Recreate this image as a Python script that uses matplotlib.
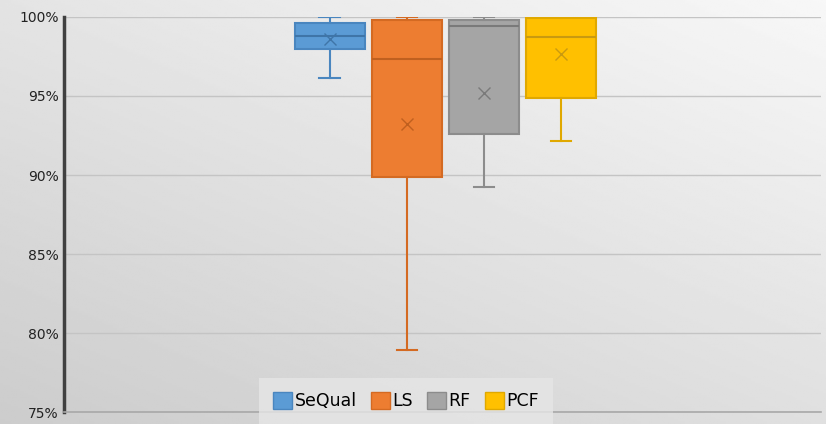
import numpy as np
import matplotlib
matplotlib.use('Agg')
import matplotlib.pyplot as plt
from matplotlib.patches import Patch
from matplotlib.ticker import FuncFormatter

# Box plot statistics (fraction of 1)
series = ['SeQual', 'LS', 'RF', 'PCF']
whislo = [0.9615, 0.789, 0.8925, 0.9215]
q1 = [0.980, 0.899, 0.926, 0.949]
med = [0.988, 0.9735, 0.994, 0.9875]
q3 = [0.996, 0.998, 0.998, 0.9995]
whishi = [1.0, 1.0, 1.0, 1.0]
means = [0.986, 0.932, 0.952, 0.9765]

fill_colors = ['#5B9BD5', '#ED7D31', '#A5A5A5', '#FFC000']
edge_colors = ['#4A86BF', '#D46A22', '#8C8C8C', '#E0A800']
line_colors = ['#3F75A8', '#C0601F', '#7A7A7A', '#C99A10']

fig = plt.figure(figsize=(8.26, 4.24), dpi=100)

# gradient background
bg = fig.add_axes([0, 0, 1, 1], zorder=-10)
yy, xx = np.mgrid[0:1:200j, 0:1:400j]
grad = 0.80 + 0.17 * (0.55 * (1 - yy) + 0.45 * xx)
grad = np.clip(grad, 0, 1)
bg.imshow(grad, cmap='gray', vmin=0, vmax=1, aspect='auto', origin='upper',
          extent=[0, 1, 0, 1])
bg.axis('off')

ax = fig.add_axes([0.0775, 0.028, 0.917, 0.932])
ax.patch.set_alpha(0)

stats = []
for i, name in enumerate(series):
    stats.append({'label': name, 'whislo': whislo[i], 'q1': q1[i], 'med': med[i],
                  'q3': q3[i], 'whishi': whishi[i], 'mean': means[i], 'fliers': []})

positions = [0, 1, 2, 3]
for i, s in enumerate(stats):
    ax.bxp([s], positions=[positions[i]], widths=0.9, patch_artist=True,
           showmeans=True, showfliers=False,
           boxprops=dict(facecolor=fill_colors[i], edgecolor=edge_colors[i], linewidth=1.5),
           medianprops=dict(color=line_colors[i], linewidth=1.5),
           whiskerprops=dict(color=edge_colors[i], linewidth=1.5),
           capprops=dict(color=edge_colors[i], linewidth=1.5),
           meanprops=dict(marker='x', markeredgecolor=line_colors[i], markersize=8,
                          markeredgewidth=1.0),
           capwidths=0.27, zorder=3)

ax.set_xlim(1.5 - 4.95, 1.5 + 4.88)
ax.set_ylim(0.75, 1.0)
ax.set_yticks([0.75, 0.80, 0.85, 0.90, 0.95, 1.0])
ax.yaxis.set_major_formatter(FuncFormatter(lambda v, p: '{:.0f}%'.format(v * 100)))
ax.set_xticks([])
ax.tick_params(axis='y', length=0, labelsize=10, pad=4, colors='#222222')
ax.grid(axis='y', color='#c4c4c4', linewidth=1.0, zorder=0)
ax.set_axisbelow(True)

for side in ['top', 'right']:
    ax.spines[side].set_visible(False)
ax.spines['left'].set_color('#404040')
ax.spines['left'].set_linewidth(2.5)
ax.spines['bottom'].set_color('#a8a8a8')
ax.spines['bottom'].set_linewidth(1.2)

handles = [Patch(facecolor=fill_colors[i], edgecolor=edge_colors[i], label=series[i])
           for i in range(len(series))]
leg = ax.legend(handles=handles, loc='center', bbox_to_anchor=(406 / 826, 23 / 424),
                bbox_transform=fig.transFigure, ncol=4, frameon=True, fontsize=12.5,
                handlelength=1.1, handleheight=1.1, handletextpad=0.15, columnspacing=0.8,
                borderpad=0.8, borderaxespad=0, fancybox=False)
leg.get_frame().set_facecolor('#e6e6e6')
leg.get_frame().set_edgecolor('none')
leg.set_zorder(5)

fig.savefig('out.png', dpi=100)
